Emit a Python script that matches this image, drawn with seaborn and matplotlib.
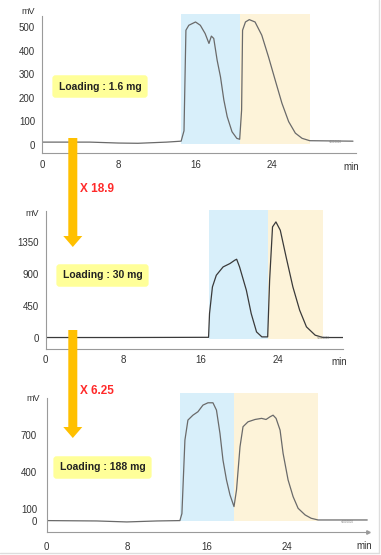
import matplotlib
matplotlib.use("Agg")
import matplotlib.pyplot as plt
import seaborn as sns
import pandas as pd
from matplotlib.patches import FancyArrow
from matplotlib.lines import Line2D
from matplotlib.ticker import MultipleLocator

sns.set_style("white")
plt.rcParams['font.family'] = ['Liberation Sans', 'DejaVu Sans']

# Chromatogram 1 : loading 1.6 mg
t1 = [0, 5, 8, 10, 13, 14.5, 14.8, 15.0, 15.3, 16.0, 16.5, 17.0, 17.4, 17.65, 17.9, 18.25, 18.6,
      18.95, 19.3, 19.8, 20.3, 20.6, 20.8, 20.9, 21.2, 21.6, 22.2, 22.9, 23.6, 24.3, 25.0,
      25.7, 26.4, 27.1, 27.9, 32.4]
mv1 = [12, 12, 8, 7, 12, 16, 60, 487, 508, 522, 508, 473, 431, 462, 452, 360, 289,
       191, 120, 56, 28, 24, 148, 487, 522, 532, 522, 466, 374, 275, 177,
       99, 50, 28, 18, 16]

# Chromatogram 2 : loading 30 mg
t2 = [0, 8, 16.8, 16.9, 17.2, 17.6, 18.3, 19.0, 19.5, 19.7, 20.0, 20.7, 21.2, 21.75, 22.3,
      22.9, 23.1, 23.4, 23.75, 24.2, 24.8, 25.5, 26.2, 26.9, 27.8, 28.6, 30.7]
mv2 = [5, 5, 8, 342, 717, 881, 998, 1045, 1092, 1106, 998, 670, 342, 84, 14,
       14, 811, 1561, 1631, 1514, 1139, 717, 389, 155, 38, 5, 5]

# Chromatogram 3 : loading 188 mg
t3 = [0, 5, 8, 11, 13.3, 13.5, 13.8, 14.1, 14.6, 15.1, 15.6, 16.1, 16.6, 16.95, 17.3, 17.6,
      17.95, 18.3, 18.7, 18.95, 19.3, 19.6, 20.1, 20.8, 21.45, 21.9, 22.3, 22.6, 22.9, 23.3,
      23.6, 24.1, 24.6, 25.1, 25.8, 26.4, 27.1, 32.0]
mv3 = [3, 0, -8, 0, 3, 60, 659, 822, 862, 890, 944, 963, 963, 903, 713, 496,
       334, 212, 117, 252, 605, 768, 808, 827, 836, 827, 849, 862, 836, 740,
       551, 334, 198, 103, 49, 22, 8, 8]

# fraction windows (min)
blue_win = [(14.5, 20.6), (16.8, 22.9), (13.3, 18.7)]
beige_win = [(20.6, 27.9), (22.9, 28.6), (18.7, 27.1)]
band_y = [(3, 556), (-20, 1805), (0, 1044)]

loadings = ["Loading : 1.6 mg", "Loading : 30 mg", "Loading : 188 mg"]
factors = ["X 18.9", "X 6.25"]

yticks = [[0, 100, 200, 300, 400, 500], [0, 450, 900, 1350], [0, 100, 400, 700]]
xticks = [0, 8, 16, 24]
xlims = [(0, 32.7), (0, 30.7), (0, 32.1)]
ylims = [(-35, 547), (-150, 1786), (-92, 998)]

axes_pos = [[0.110, 0.724, 0.824, 0.247],
            [0.120, 0.372, 0.781, 0.248],
            [0.1225, 0.041, 0.844, 0.241]]
line_colors = ["#6a6a6a", "#3a3a3a", "#6a6a6a"]
mv_offsets = [3, -2, 0]

fig = plt.figure(figsize=(3.81, 5.55), dpi=100)

curves = [(t1, mv1), (t2, mv2), (t3, mv3)]
for i, (t, mv) in enumerate(curves):
    ax = fig.add_axes(axes_pos[i])
    df = pd.DataFrame({"t": t, "mV": mv})
    ax.fill_between(blue_win[i], band_y[i][0], band_y[i][1], color="#d8effa", lw=0, clip_on=False, zorder=0)
    ax.fill_between(beige_win[i], band_y[i][0], band_y[i][1], color="#fdf3d9", lw=0, clip_on=False, zorder=0)
    sns.lineplot(data=df, x="t", y="mV", ax=ax, color=line_colors[i], lw=0.9, zorder=2)
    ax.set_xlim(*xlims[i])
    ax.set_ylim(*ylims[i])
    ax.set_xticks(xticks)
    ax.set_yticks(yticks[i])
    ax.set_xlabel("")
    ax.set_ylabel("")
    for s in ["top", "right"]:
        ax.spines[s].set_visible(False)
    for s in ["left", "bottom"]:
        ax.spines[s].set_color("#9a9a9a")
        ax.spines[s].set_linewidth(0.8)
    if i < 2:
        ax.xaxis.set_minor_locator(MultipleLocator(1))
        if i == 0:
            ax.yaxis.set_minor_locator(MultipleLocator(20))
        ax.tick_params(which="both", direction="in", color="#9a9a9a", width=0.6)
        ax.tick_params(which="major", length=3)
        ax.tick_params(which="minor", length=2)
    else:
        ax.tick_params(which="both", direction="out", color="#9a9a9a", width=0.6, length=2)
        ax.plot(1, 0, ">", transform=ax.transAxes, clip_on=False, ms=2.5, color="#9a9a9a")
    ax.tick_params(axis="both", labelsize=7, labelcolor="#333333", pad=5)
    ax.annotate("mV", xy=(0, 1), xycoords="axes fraction", xytext=(-5, mv_offsets[i]), textcoords="offset points",
                ha="right", va="center", fontsize=6.5, color="#333333")
    ax.annotate("min", xy=(1, 0), xycoords="axes fraction", xytext=(-3, -6), textcoords="offset points",
                ha="center", va="top", fontsize=7, color="#333333")
    ax.annotate("×1000000", xy=(0.955, 0.08), xycoords="axes fraction", ha="right", va="center",
                fontsize=2, color="#777777")
    ax.patch.set_alpha(0)

# loading boxes
box_pos = [(100 / 381, 1 - 86.5 / 555), (102.5 / 381, 1 - 275.5 / 555), (102.5 / 381, 1 - 467.5 / 555)]
for (bx, by), lab in zip(box_pos, loadings):
    fig.text(bx, by, lab, ha="center", va="center", fontsize=7.5, fontweight="bold", color="#222222",
             bbox=dict(boxstyle="round,pad=0.6,rounding_size=0.3", fc="#ffff99", ec="none"))

# orange arrows between panels
arrow_x = 72.8 / 381
for y0, y1 in [(1 - 138 / 555, 1 - 247 / 555), (1 - 330 / 555, 1 - 438 / 555)]:
    fig.patches.append(FancyArrow(arrow_x, y0, 0, y1 - y0, width=9 / 381, head_width=19 / 381,
                                  head_length=11 / 555, length_includes_head=True,
                                  transform=fig.transFigure, color="#ffc000", lw=0))

fig.text(80 / 381, 1 - 189 / 555, factors[0], ha="left", va="center", fontsize=8.5,
         fontweight="bold", color="#ff2a2a")
fig.text(80 / 381, 1 - 391 / 555, factors[1], ha="left", va="center", fontsize=8.5,
         fontweight="bold", color="#ff2a2a")

# light frame at bottom / right
fig.add_artist(Line2D([0, 379 / 381], [1 - 553 / 555, 1 - 553 / 555], transform=fig.transFigure,
                      color="#dddddd", lw=1))
fig.add_artist(Line2D([379 / 381, 379 / 381], [1 - 553 / 555, 1], transform=fig.transFigure,
                      color="#dddddd", lw=1))

fig.savefig("out.png", dpi=100)
